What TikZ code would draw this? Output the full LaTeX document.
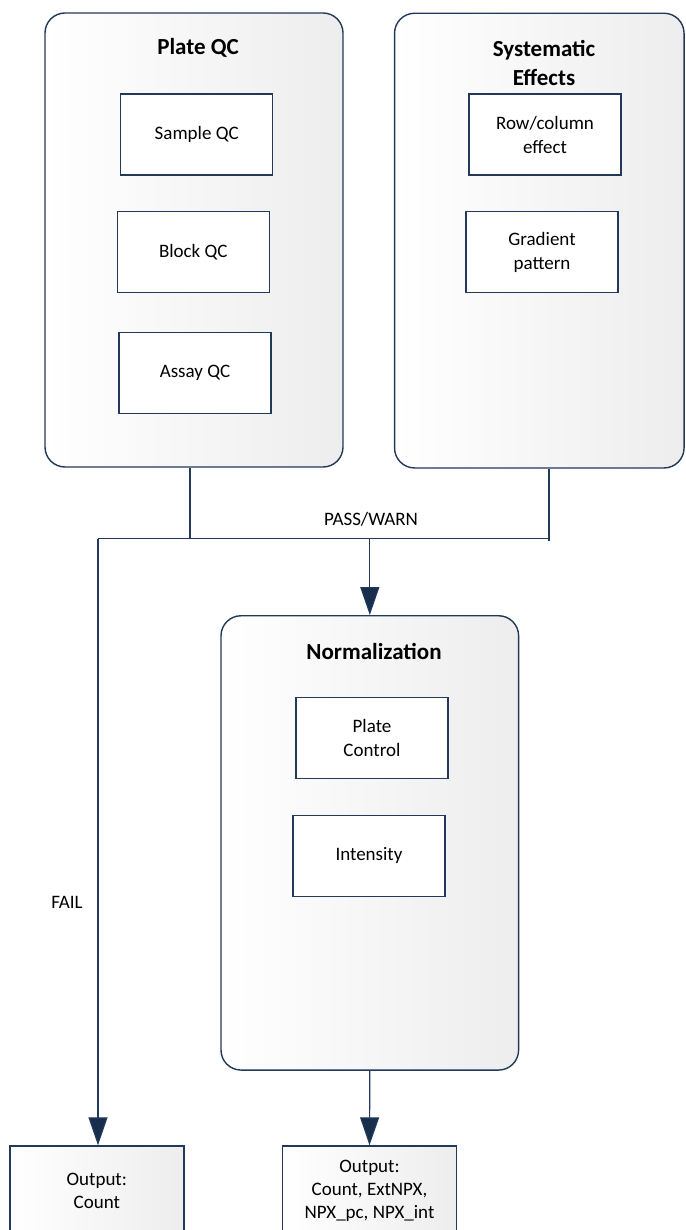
\documentclass[tikz,border=0pt]{standalone}
\usepackage{fontspec}
\setmainfont{Carlito}
\usetikzlibrary{arrows.meta}
\definecolor{navy}{HTML}{22395A}
\definecolor{arrowfill}{HTML}{172F4D}
\tikzset{
  container/.style={draw=navy, line width=1.4pt, rounded corners=20pt, left color=white, right color=black!7, shading angle=90},
  inner/.style={draw=navy, line width=1.4pt, fill=white, minimum width=152pt, minimum height=81pt, align=center, font=\fontsize{19}{24}\selectfont, inner sep=0pt},
  outbox/.style={draw=navy, line width=1.4pt, left color=white, right color=black!7, minimum width=174pt, minimum height=90pt, align=center, font=\fontsize{19}{23}\selectfont, inner sep=0pt},
  titletext/.style={font=\fontsize{23}{29}\selectfont\bfseries, align=center, inner sep=0pt},
  lbl/.style={font=\fontsize{19}{24}\selectfont, inner sep=0pt},
  conn/.style={draw=navy, line width=1.2pt},
  arr/.style={conn, -{Triangle[length=28pt, width=19pt, fill=arrowfill]}}
}
\begin{document}
\begin{tikzpicture}[x={(1pt,0)}, y={(0,-1pt)}]
\useasboundingbox (0,0) rectangle (685,1230);
\clip (0,0) rectangle (685,1230);
% containers
\node[container, minimum width=298pt, minimum height=454pt] (plateqc) at (194,240) {};
\node[container, minimum width=289.5pt, minimum height=454.7pt] (syst) at (539.3,240.6) {};
\node[container, minimum width=297.6pt, minimum height=454.3pt] (norm) at (369.8,842.9) {};
% titles
\node[titletext] (tpq) at (198,48) {Plate QC};
\node[titletext] (tse) at (544,63) {Systematic\\Effects};
\node[titletext] (tno) at (374,651) {Normalization};
% inner boxes
\node[inner] (sample) at (196.7,134.5) {Sample QC};
\node[inner] (block) at (193.3,252) {Block QC};
\node[inner] (assay) at (195,373) {Assay QC};
\node[inner] (rowcol) at (545,134.5) {Row/column\\effect};
\node[inner] (gradient) at (542,252) {Gradient\\pattern};
\node[inner] (platectrl) at (372,737.8) {Plate\\Control};
\node[inner] (intensity) at (369,855.7) {Intensity};
% outputs
\node[outbox] (out1) at (96.8,1191) {Output:\\Count};
\node[outbox] (out2) at (369.5,1191) {Output:\\Count, ExtNPX,\\NPX\_pc, NPX\_int};
% bus coordinates
\coordinate (busL) at (98,538.7);
\coordinate (busR) at (549,538.7);
\coordinate (busEnd) at (549,540.5);
% connectors
\draw[conn] ([xshift=-4pt]plateqc.south) -- ([xshift=-4pt]plateqc.south |- busL);
\draw[conn] ([xshift=9.7pt]syst.south) -- ([xshift=9.7pt]syst.south |- busEnd);
\draw[conn] (busR) -- (busL);
\draw[arr] (busL) -- (busL |- out1.north);
\draw[arr] (norm.north |- busL) -- (norm.north);
\draw[arr] (norm.south) -- (out2.north);
% labels
\node[lbl] (pw) at (371,519) {PASS/WARN};
\node[lbl] (fail) at (67,902) {FAIL};
\end{tikzpicture}
\end{document}
